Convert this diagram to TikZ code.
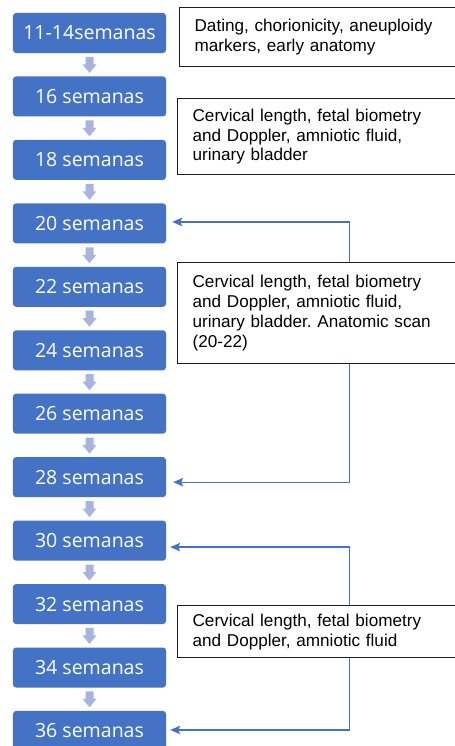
\documentclass[tikz,border=0pt]{standalone}
\usepackage{fontspec}
\setmainfont{Liberation Sans}
\newfontfamily\boxfont{Open Sans}
\usetikzlibrary{arrows.meta,calc}
\definecolor{wkblue}{RGB}{68,114,196}
\definecolor{wkarrow}{RGB}{166,180,222}
\definecolor{framegray}{RGB}{30,30,30}
\frenchspacing
\tikzset{
  weekbox/.style={fill=wkblue, rounded corners=3bp, minimum width=153bp,
    minimum height=40bp, inner sep=0pt, text=white,
    font=\boxfont\fontsize{19.6}{22}\selectfont},
  infobox/.style={draw=framegray, line width=1.2bp, align=left,
    text width=250bp, inner xsep=15bp, inner ysep=0pt, anchor=north west,
    font=\fontsize{17.2}{20}\selectfont},
  conn/.style={draw=wkblue, line width=1.3bp,
    -{Stealth[length=10bp,width=8.5bp,inset=2bp]}},
  downarrow/.style={fill=wkarrow}
}
\begin{document}
\begin{tikzpicture}[x=1bp,y=-1bp]
\clip (0,0) rectangle (455,746);
\fill[white] (0,0) rectangle (455,746);
\foreach \lab [count=\i] in {11-14semanas,16 semanas,18 semanas,20 semanas,22 semanas,24 semanas,26 semanas,28 semanas,30 semanas,32 semanas,34 semanas,36 semanas}
  \node[weekbox] (w\i) at (89.5,{33+63.45*(\i-1)}) {\lab};
\foreach \i in {1,...,11}
  \fill[downarrow] ($(w\i.south)+(-4,3.7)$) -- ++(8,0) -- ++(0,7.5) -- ++(3,0)
     -- ++(-7,8.5) -- ++(-7,-8.5) -- ++(3,0) -- cycle;
\node[infobox, minimum height=59bp] (A) at (179,7)
  {Dating, chorionicity, aneuploidy\\markers, early anatomy};
\node[infobox, minimum height=76bp] (B) at (177,98)
  {Cervical length, fetal biometry\\and Doppler, amniotic fluid,\\urinary bladder};
\node[infobox, minimum height=101bp] (C) at (177,262)
  {Cervical length, fetal biometry\\and Doppler, amniotic fluid,\\urinary bladder. Anatomic scan\\(20-22)};
\node[infobox, minimum height=52bp] (D) at (177,605)
  {Cervical length, fetal biometry\\and Doppler, amniotic fluid};
\coordinate (vx) at (349.5,0);
\draw[conn] (C.north -| vx) |- ($(w4.east)+(6,-1.4)$);
\draw[conn] (C.south -| vx) |- ($(w8.east)+(7,5)$);
\draw[conn] (D.north -| vx) |- ($(w9.east)+(4,6.5)$);
\draw[conn] (D.south -| vx) |- ($(w12.east)+(4,-1)$);
\end{tikzpicture}
\end{document}
